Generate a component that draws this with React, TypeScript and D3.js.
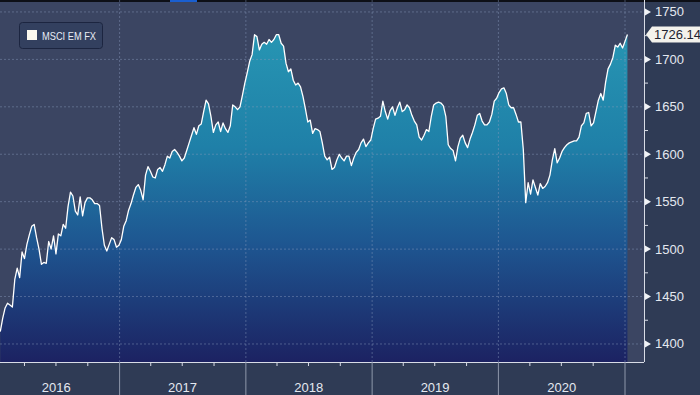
import React from 'react';
import * as d3 from 'd3';

// weekly closes, MSCI EM currency index
const weekStart = new Date(2016, 0, 22);
const weeklyClose = [
  1413, 1427, 1438, 1443, 1441, 1439, 1468, 1480, 1470, 1497,
  1490, 1505, 1515, 1524, 1526, 1512, 1500, 1484, 1486, 1485,
  1508, 1500, 1514, 1495, 1516, 1514, 1526, 1522, 1545, 1560,
  1556, 1540, 1536, 1555, 1535, 1549, 1554, 1554, 1552, 1548,
  1548, 1546, 1522, 1504, 1498, 1505, 1512, 1510, 1502, 1504,
  1510, 1524, 1530, 1541, 1548, 1557, 1565, 1568, 1562, 1552,
  1578, 1587, 1582, 1576, 1575, 1584, 1586, 1582, 1589, 1598,
  1596, 1603, 1605, 1602, 1598, 1593, 1596, 1604, 1612, 1620,
  1628, 1621, 1630, 1632, 1645, 1657, 1653, 1640, 1623, 1631,
  1634, 1624, 1633, 1627, 1623, 1630, 1652, 1650, 1647, 1650,
  1662, 1675, 1686, 1698, 1705, 1726, 1724, 1710, 1716, 1718,
  1716, 1721, 1718, 1721, 1726, 1726, 1717, 1714, 1696, 1687,
  1690, 1678, 1673, 1675, 1671, 1661, 1648, 1634, 1636, 1622,
  1627, 1626, 1624, 1612, 1598, 1594, 1597, 1584, 1586, 1594,
  1600, 1596, 1593, 1598, 1598, 1588, 1596, 1602, 1605, 1612,
  1616, 1608, 1612, 1615, 1627, 1637, 1638, 1640, 1656, 1645,
  1637, 1646, 1650, 1641, 1649, 1655, 1645, 1647, 1652, 1649,
  1641, 1635, 1631, 1618, 1615, 1620, 1626, 1624, 1640, 1652,
  1654, 1655, 1654, 1651, 1640, 1610, 1606, 1604, 1593, 1608,
  1617, 1620, 1612, 1607, 1616, 1623, 1631, 1641, 1643, 1635,
  1631, 1631, 1634, 1642, 1656, 1659, 1665, 1669, 1670, 1664,
  1652, 1649, 1649, 1642, 1634, 1634, 1605, 1549, 1570, 1558,
  1573, 1565, 1557, 1569, 1564, 1566, 1570, 1578, 1594, 1606,
  1591, 1596, 1603, 1607, 1610, 1612, 1613, 1614, 1614, 1618,
  1630, 1633, 1643, 1644, 1630, 1633, 1645, 1657, 1664, 1657,
  1676, 1690, 1695, 1702, 1715, 1713, 1717, 1712, 1719, 1726.14,
];
const yTicks = [1400, 1450, 1500, 1550, 1600, 1650, 1700, 1750];
const years = [2016, 2017, 2018, 2019, 2020];
const seriesName = 'MSCI EM FX';

const W = 700;
const H = 395;
const plotW = 644;
const plotH = 362;
const font = '"Liberation Sans", Arial, sans-serif';

export default function App() {
  const data = weeklyClose.map((v, i) => ({ date: d3.timeWeek.offset(weekStart, i), value: v }));
  const last = data[data.length - 1];

  const x = d3.scaleTime()
    .domain([new Date(2016, 0, 1), new Date(2021, 0, 1)])
    .range([-7, 625]);
  const y = d3.scaleLinear().domain([1381, 1762.6]).range([plotH, 0]);

  const area = d3.area<any>()
    .x(d => x(d.date))
    .y0(plotH)
    .y1(d => y(d.value));
  const line = d3.line<any>()
    .x(d => x(d.date))
    .y(d => y(d.value));

  const yearStarts = d3.timeYear.range(new Date(2016, 0, 1), new Date(2021, 0, 2));
  const quarters = d3.timeMonth.every(3)!
    .range(new Date(2016, 0, 1), new Date(2021, 1, 28))
    .filter(d => d.getMonth() !== 0);
  const minorY = d3.range(1425, 1775, 50);

  return (
    <svg width={W} height={H} style={{ position: 'absolute', left: 0, top: 0, fontFamily: font }}>
      <defs>
        <linearGradient id="fillGrad" gradientUnits="userSpaceOnUse" x1="0" y1="30" x2="0" y2={plotH}>
          <stop offset="0" stopColor="#2796b3" />
          <stop offset="0.35" stopColor="#1f80a8" />
          <stop offset="0.65" stopColor="#1e5590" />
          <stop offset="1" stopColor="#1c2262" />
        </linearGradient>
        <clipPath id="plotClip">
          <rect x={0} y={0} width={plotW} height={plotH} />
        </clipPath>
      </defs>

      {/* backgrounds */}
      <rect x={0} y={0} width={W} height={H} fill="#2f3b55" />
      <rect x={0} y={0} width={plotW} height={plotH} fill="#3b4562" />
      <rect x={0} y={0} width={W} height={2} fill="#0d0f16" />
      <rect x={170} y={0} width={27} height={2} fill="#1a5fd0" />

      <g clipPath="url(#plotClip)">
        <path d={area(data) || ''} fill="url(#fillGrad)" />
        {/* grid */}
        {yTicks.map(t => (
          <line key={'gy' + t} x1={0} x2={plotW} y1={y(t)} y2={y(t)}
            stroke="#8a9bbd" strokeOpacity={0.45} strokeDasharray="2,2" />
        ))}
        {yearStarts.slice(1).map(d => (
          <line key={'gx' + d.getFullYear()} x1={x(d)} x2={x(d)} y1={0} y2={plotH}
            stroke="#8a9bbd" strokeOpacity={0.45} strokeDasharray="2,2" />
        ))}
        <path d={line(data) || ''} fill="none" stroke="#ffffff" strokeWidth={1.3} strokeLinejoin="round" />
      </g>

      {/* bottom axis */}
      <line x1={0} x2={plotW} y1={plotH + 0.5} y2={plotH + 0.5} stroke="#d8dce6" />
      {quarters.map(d => (
        <line key={'q' + d.getTime()} x1={x(d)} x2={x(d)} y1={plotH} y2={plotH + 4} stroke="#d8dce6" />
      ))}
      {yearStarts.slice(1).map(d => (
        <line key={'ys' + d.getFullYear()} x1={x(d)} x2={x(d)} y1={plotH} y2={H} stroke="#8f98ab" />
      ))}
      {years.map(yr => {
        const mid = new Date(yr, 6, 2);
        return (
          <text key={yr} x={x(mid)} y={392} textAnchor="middle" fontSize={13} fill="#e4e8f0">{yr}</text>
        );
      })}

      {/* right axis */}
      <line x1={plotW + 0.5} x2={plotW + 0.5} y1={0} y2={plotH} stroke="#d8dce6" />
      {minorY.map(t => (
        <line key={'my' + t} x1={plotW} x2={plotW + 4} y1={y(t)} y2={y(t)} stroke="#d8dce6" />
      ))}
      {yTicks.map(t => (
        <g key={'yt' + t} transform={`translate(${plotW + 1},${y(t)})`}>
          <path d="M0,-3.5L6,0L0,3.5Z" fill="#f0f2f6" />
          <text x={10} y={4.5} fontSize={13} fill="#e4e8f0">{t}</text>
        </g>
      ))}

      {/* last value tag */}
      <g transform={`translate(${plotW + 2},${y(last.value)})`}>
        <path d="M0,0L6,-8H60V8H6Z" fill="#f3f2ec" />
        <text x={8} y={4.5} fontSize={13} fill="#1e2230">{last.value.toFixed(2)}</text>
      </g>

      {/* legend */}
      <rect x={19.5} y={22.5} width={83} height={26} rx={3} fill="#33405f" stroke="#1c2540" />
      <rect x={27} y={30} width={10} height={10} fill="#fbf8ee" />
      <text x={42} y={39.5} fontSize={11} fill="#e8ecf5" textLength={54} lengthAdjust="spacingAndGlyphs">{seriesName}</text>
    </svg>
  );
}
